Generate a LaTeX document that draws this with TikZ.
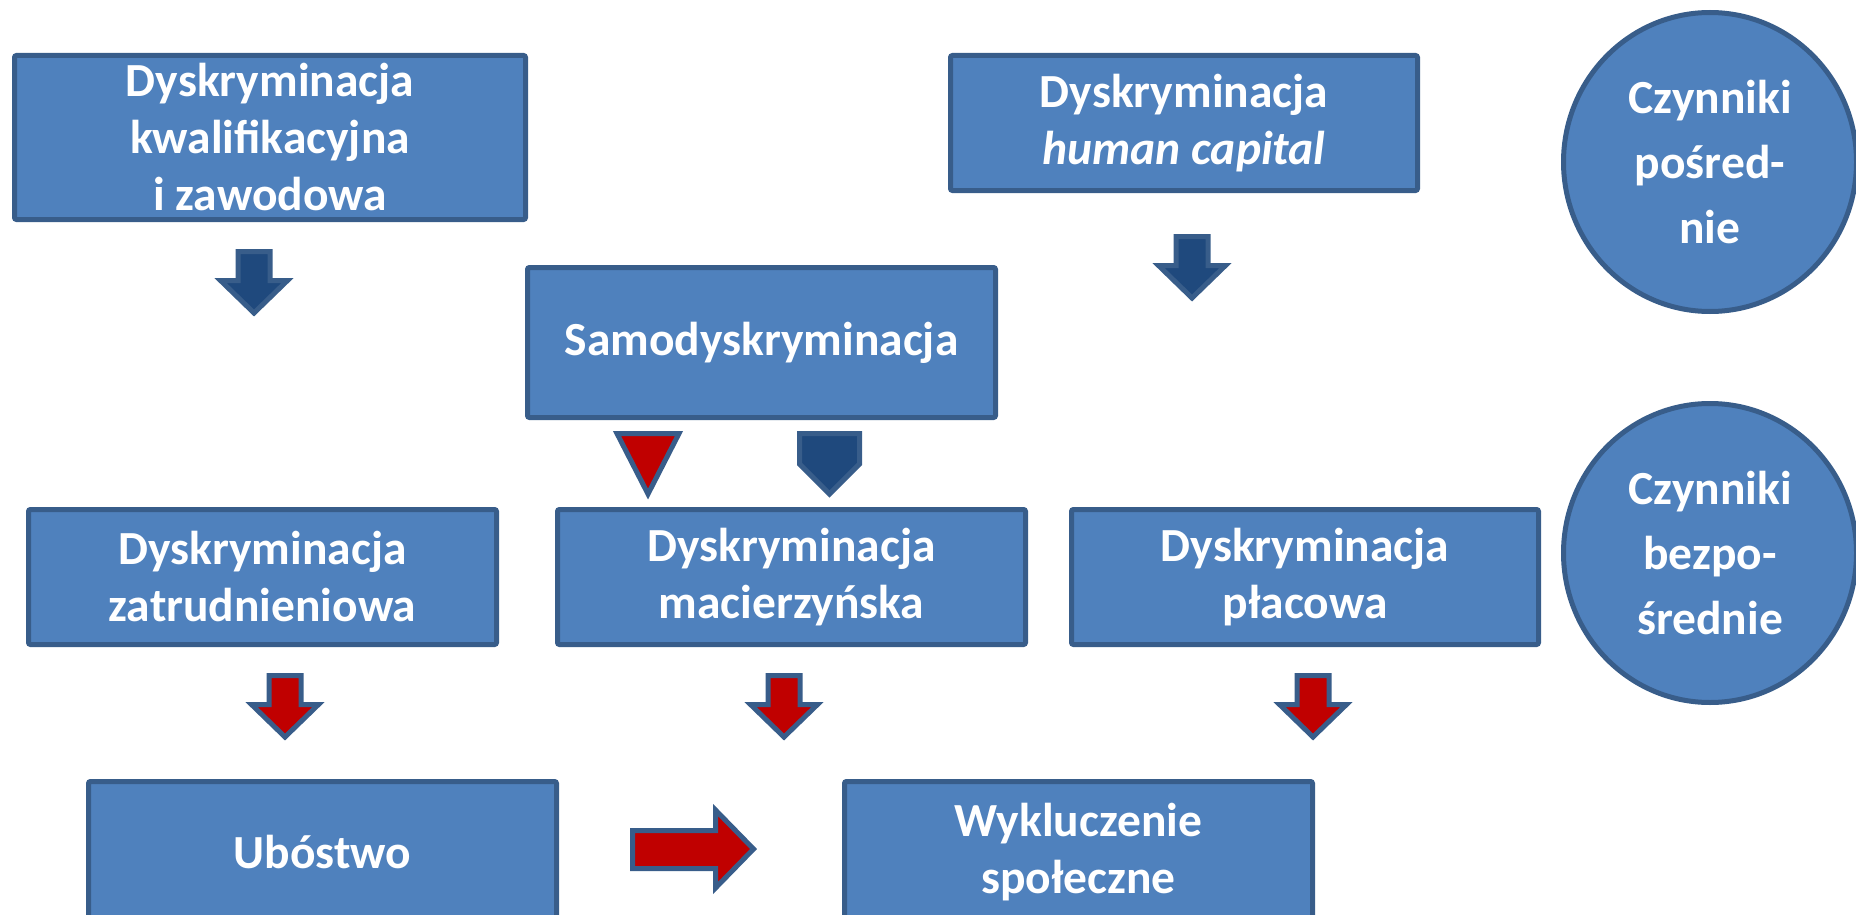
\documentclass[tikz,border=0pt]{standalone}
\usepackage{fontspec}
\setmainfont{Carlito}
\usetikzlibrary{shapes.geometric}
\definecolor{boxfill}{HTML}{4F81BD}
\definecolor{boxline}{HTML}{385D8A}
\definecolor{darkarrow}{HTML}{1F497D}
\definecolor{redarrow}{HTML}{C00000}
\newcommand{\blockdown}[3]{%
  \filldraw[arrowline, fill=#3] ({#1-16},{#2+2.5}) -- ({#1+16},{#2+2.5}) -- ({#1+16},{#2+31.5}) -- ({#1+33.5},{#2+31.5}) -- ({#1},{#2+64}) -- ({#1-33.5},{#2+31.5}) -- ({#1-16},{#2+31.5}) -- cycle;}
\tikzset{
  box/.style={draw=boxline, fill=boxfill, line width=5pt, rounded corners=2pt,
    text=white, align=center, inner sep=0pt,
    font=\bfseries\fontsize{47.5}{57}\selectfont},
  circ/.style={ellipse, draw=boxline, fill=boxfill, line width=5pt,
    text=white, align=center, inner sep=0pt,
    font=\bfseries\fontsize{47.5}{65}\selectfont},
  arrowline/.style={draw=boxline, line width=5pt, line join=miter}
}
\begin{document}
\begin{tikzpicture}[x=1pt,y=-1pt]
\useasboundingbox (0,0) rectangle (1856,915);
\clip (0,0) rectangle (1856,915);
% boxes
\node[box, minimum width=511pt, minimum height=164pt] (kwal) at (270,137.5)
  {Dyskryminacja\\kwalifikacyjna\\i zawodowa};
\node[box, minimum width=467pt, minimum height=135pt] (hc) at (1184,123)
  {Dyskryminacja\\\textit{human capital}};
\node[box, minimum width=468pt, minimum height=150pt] (samo) at (761.5,342.5)
  {Samodyskryminacja};
\node[box, minimum width=468pt, minimum height=135pt] (zatr) at (262.5,577)
  {Dyskryminacja\\zatrudnieniowa};
\node[box, minimum width=468pt, minimum height=135pt] (mac) at (791.5,577)
  {Dyskryminacja\\macierzyńska};
\node[box, minimum width=467pt, minimum height=135pt] (plac) at (1305,577)
  {Dyskryminacja\\płacowa};
\node[box, minimum width=468pt, minimum height=141pt] (ubo) at (322.5,852)
  {Ubóstwo};
\node[box, minimum width=468pt, minimum height=141pt] (wyk) at (1078.5,852)
  {Wykluczenie\\społeczne};
% circles
\node[circ, minimum width=293pt, minimum height=299pt] (posr) at (1710,162)
  {Czynniki\\pośred-\\nie};
\node[circ, minimum width=293pt, minimum height=299pt] (bezp) at (1710,553)
  {Czynniki\\bezpo-\\średnie};
% block arrows
\blockdown{254}{249}{darkarrow}
\blockdown{1192}{234}{darkarrow}
\blockdown{285}{673}{redarrow}
\blockdown{784}{673}{redarrow}
\blockdown{1313}{673}{redarrow}
\filldraw[arrowline, fill=redarrow] (617,433.5) -- (679,433.5) -- (648,494) -- cycle;
\filldraw[arrowline, fill=darkarrow] (799.5,433.5) -- (859.5,433.5) -- (859.5,464) -- (829.5,494) -- (799.5,464) -- cycle;
\filldraw[arrowline, fill=redarrow] (632.5,830.5) -- (715.5,830.5) -- (715.5,810) -- (753.5,849) -- (715.5,888) -- (715.5,868.5) -- (632.5,868.5) -- cycle;
\end{tikzpicture}
\end{document}
